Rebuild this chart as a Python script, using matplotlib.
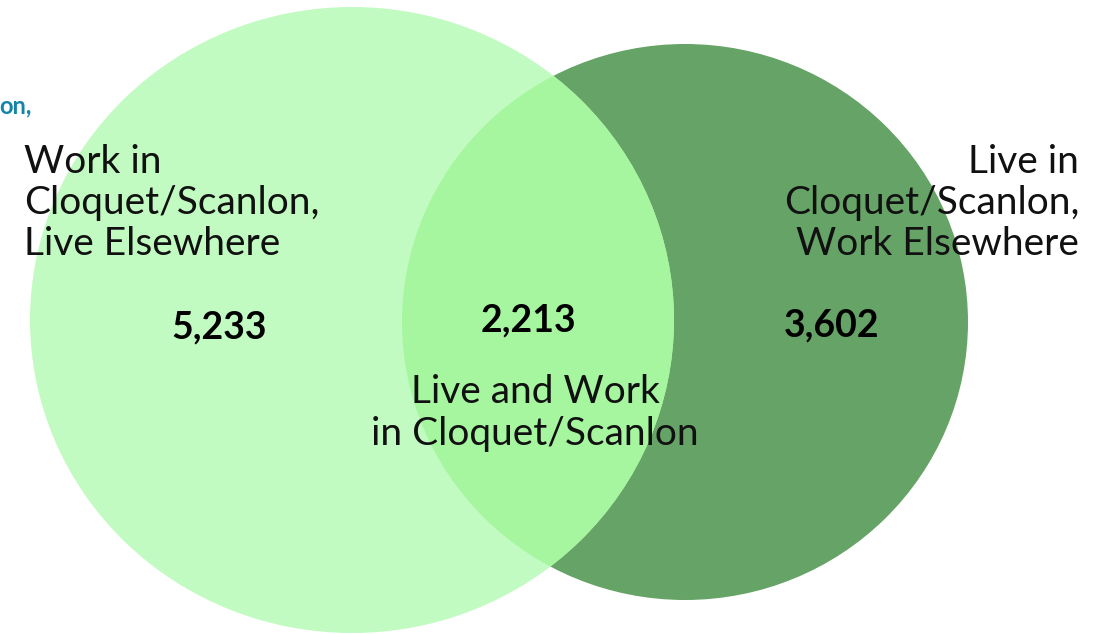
import matplotlib.pyplot as plt
from matplotlib.patches import Ellipse

# commuting flows for Cloquet/Scanlon
region_labels = ["Work in\nCloquet/Scanlon,\nLive Elsewhere",
                 "Live and Work\nin Cloquet/Scanlon",
                 "Live in\nCloquet/Scanlon,\nWork Elsewhere"]
region_counts = [5233, 2213, 3602]

LIGHT = "#c1fbc1"
MID = "#a6f6a0"
DARK = "#66a366"
W, H = 1107, 634

fig = plt.figure(figsize=(W / 100, H / 100), dpi=100)
ax = fig.add_axes([0, 0, 1, 1])
ax.set_xlim(0, W)
ax.set_ylim(H, 0)
ax.axis("off")

# two sets, drawn in pixel units
right = Ellipse((685, 322), 566, 556, color=DARK, lw=0)
left = Ellipse((352, 320), 644, 626, color=LIGHT, lw=0)
ax.add_patch(right)
ax.add_patch(left)
overlap = Ellipse((352, 320), 644, 626, color=MID, lw=0)
ax.add_patch(overlap)
overlap.set_clip_path(right)

font = "Lato"
lab = dict(fontsize=28, family=font, weight="normal", linespacing=1.18,
           color="#111111")
ax.text(24, 203, region_labels[0], ha="left", va="center", **lab)
ax.text(1079, 203, region_labels[2], ha="right", va="center", **lab)
ax.text(535, 413, region_labels[1], ha="center", va="center", **lab)

for x, y, n in zip([219, 528, 832], [327, 320, 325], region_counts):
    ax.text(x, y, f"{n:,}", ha="center", va="center", fontsize=27,
            family=font, weight="bold")

ax.text(-1, 106, "on,", ha="left", va="center", fontsize=17,
        family=font, weight="bold", color="#1285a8")

fig.savefig("out.png", dpi=100)
